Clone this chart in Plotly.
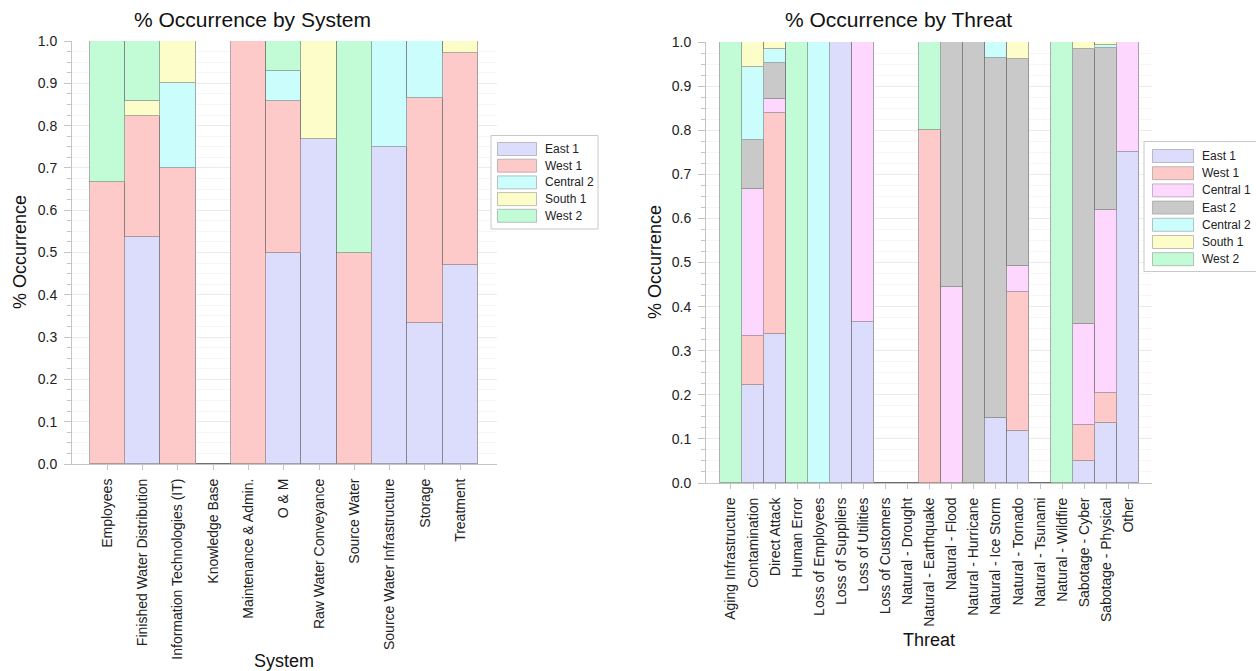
import plotly.graph_objects as go

# ---- data: share of occurrences by system ----
systems = ["Employees", "Finished Water Distribution", "Information Technologies (IT)",
           "Knowledge Base", "Maintenance & Admin.", "O & M", "Raw Water Conveyance",
           "Source Water", "Source Water Infrastructure", "Storage", "Treatment"]
sys_east1 = [0, 0.536, 0, 0, 0, 0.5, 0.769, 0, 0.75, 0.333, 0.471]
sys_west1 = [0.667, 0.286, 0.7, 0, 1.0, 0.357, 0, 0.5, 0, 0.533, 0.5]
sys_central2 = [0, 0, 0.2, 0, 0, 0.071, 0, 0, 0.25, 0.134, 0]
sys_south1 = [0, 0.036, 0.1, 0, 0, 0, 0.231, 0, 0, 0, 0.029]
sys_west2 = [0.333, 0.142, 0, 0, 0, 0.072, 0, 0.5, 0, 0, 0]

# ---- data: share of occurrences by threat ----
threats = ["Aging Infrastructure", "Contamination", "Direct Attack", "Human Error",
           "Loss of Employees", "Loss of Suppliers", "Loss of Utilities", "Loss of Customers",
           "Natural - Drought", "Natural - Earthquake", "Natural - Flood", "Natural - Hurricane",
           "Natural - Ice Storm", "Natural - Tornado", "Natural - Tsunami", "Natural - Wildfire",
           "Sabotage - Cyber", "Sabotage - Physical", "Other"]
thr_east1 = [0, 0.222, 0.339, 0, 0, 1.0, 0.364, 0, 0, 0, 0, 0, 0.148, 0.118, 0, 0, 0.049, 0.136, 0.75]
thr_west1 = [0, 0.111, 0.5, 0, 0, 0, 0, 0, 0, 0.8, 0, 0, 0, 0.314, 0, 0, 0.082, 0.068, 0]
thr_central1 = [0, 0.333, 0.032, 0, 0, 0, 0.636, 0, 0, 0, 0.444, 0, 0, 0.059, 0, 0, 0.23, 0.415, 0.25]
thr_east2 = [0, 0.111, 0.081, 0, 0, 0, 0, 0, 0, 0, 0.556, 1.0, 0.815, 0.47, 0, 0, 0.623, 0.367, 0]
thr_central2 = [0, 0.167, 0.032, 0, 1.0, 0, 0, 0, 0, 0, 0, 0, 0.037, 0, 0, 0, 0, 0.007, 0]
thr_south1 = [0, 0.056, 0.016, 0, 0, 0, 0, 0, 0, 0, 0, 0, 0, 0.039, 0, 0, 0.016, 0.007, 0]
thr_west2 = [1.0, 0, 0, 1.0, 0, 0, 0, 0, 0, 0.2, 0, 0, 0, 0, 0, 1.0, 0, 0, 0]

COLORS = {
    "East 1": "#dcdcfd",
    "West 1": "#fdc9c9",
    "Central 1": "#fdd7fd",
    "East 2": "#c9c9c9",
    "Central 2": "#cbfdfd",
    "South 1": "#fdfdc9",
    "West 2": "#c1fcd7",
}
EDGE = "rgba(110,110,110,0.55)"
FONT = "Liberation Sans, Arial, sans-serif"

W, H = 1256, 671


def fx(px):
    return px / W


def fy(py):
    return 1 - py / H


sys_series = [("East 1", sys_east1), ("West 1", sys_west1), ("Central 2", sys_central2),
              ("South 1", sys_south1), ("West 2", sys_west2)]
thr_series = [("East 1", thr_east1), ("West 1", thr_west1), ("Central 1", thr_central1),
              ("East 2", thr_east2), ("Central 2", thr_central2), ("South 1", thr_south1),
              ("West 2", thr_west2)]

fig = go.Figure()
for name, vals in sys_series:
    fig.add_trace(go.Bar(x=systems, y=vals, name=name, xaxis="x", yaxis="y",
                         marker=dict(color=COLORS[name], line=dict(color=EDGE, width=1)),
                         width=1, showlegend=False))
for name, vals in thr_series:
    fig.add_trace(go.Bar(x=threats, y=vals, name=name, xaxis="x2", yaxis="y2",
                         marker=dict(color=COLORS[name], line=dict(color=EDGE, width=1)),
                         width=1, showlegend=False))

tickfont = dict(family=FONT, size=14, color="#222")
axis_line = "#c4c4c4"


def xaxis_cfg(dom, anchor, cats, rng):
    return dict(domain=dom, anchor=anchor, type="category", categoryorder="array",
                categoryarray=cats, range=rng, tickangle=-90, ticks="outside", ticklen=5,
                tickcolor=axis_line, showline=True, linecolor=axis_line, showgrid=False,
                tickfont=tickfont, fixedrange=True, zeroline=False, automargin=False,
                ticklabelstandoff=3)


def yaxis_cfg(dom, anchor):
    return dict(domain=dom, anchor=anchor, range=[0, 1], dtick=0.1, tick0=0, tickformat=".1f",
                ticks="outside", ticklen=7, tickcolor=axis_line, showline=True,
                linecolor=axis_line, showgrid=True, gridcolor="#ebebeb", zeroline=False,
                tickfont=tickfont, ticklabelstandoff=4, automargin=False,
                minor=dict(dtick=0.025, ticks="outside", ticklen=4, tickcolor=axis_line,
                           showgrid=True, gridcolor="#f6f6f6"))


def label(text, x, y, size, angle=0):
    return dict(text=text, x=fx(x), y=fy(y), xref="paper", yref="paper",
                xanchor="center", yanchor="middle", textangle=angle, showarrow=False,
                font=dict(family=FONT, size=size, color="#111"))


annotations = [
    label("% Occurrence by System", 252, 19, 21),
    label("% Occurrence by Threat", 898, 19, 21),
    label("% Occurrence", 20, 252, 18, -90),
    label("% Occurrence", 655, 262, 18, -90),
    label("System", 284, 661, 18),
    label("Threat", 929, 640, 18),
]
shapes = []


def add_legend(names, box, sw_x0, sw_x1, first_top, pitch, text_x):
    x0, y0, x1, y1 = box
    shapes.append(dict(type="rect", xref="paper", yref="paper", x0=fx(x0), x1=fx(x1),
                       y0=fy(y0), y1=fy(y1), fillcolor="white",
                       line=dict(color="#c8c8c8", width=1), layer="above"))
    for i, n in enumerate(names):
        top = first_top + i * pitch
        shapes.append(dict(type="rect", xref="paper", yref="paper", x0=fx(sw_x0), x1=fx(sw_x1),
                           y0=fy(top), y1=fy(top + 13), fillcolor=COLORS[n],
                           line=dict(color="rgba(150,150,150,0.6)", width=1), layer="above"))
        annotations.append(dict(text=n, x=fx(text_x), y=fy(top + 6.5), xref="paper",
                                yref="paper", xanchor="left", yanchor="middle", showarrow=False,
                                font=dict(family=FONT, size=12, color="#222")))


add_legend([n for n, _ in sys_series], (491, 135.5, 598, 229), 497.5, 536.5, 142.5, 16.7, 543)
add_legend([n for n, _ in thr_series], (1144, 141.5, 1262, 271.5), 1152.5, 1193.5, 149.5, 17.2, 1200)

fig.update_layout(
    width=W, height=H, autosize=False,
    margin=dict(l=0, r=0, t=0, b=0, autoexpand=False),
    paper_bgcolor="white", plot_bgcolor="white",
    barmode="stack", bargap=0,
    font=dict(family=FONT, color="#222"),
    xaxis=xaxis_cfg([fx(72), fx(497)], "y", systems, [-1, 11.04]),
    yaxis=yaxis_cfg([fy(464), fy(41)], "x"),
    xaxis2=xaxis_cfg([fx(706), fx(1152)], "y2", threats, [-1.13, 19.07]),
    yaxis2=yaxis_cfg([fy(483), fy(42)], "x2"),
    annotations=annotations,
    shapes=shapes,
    showlegend=False,
)

fig.write_html("out.html")
